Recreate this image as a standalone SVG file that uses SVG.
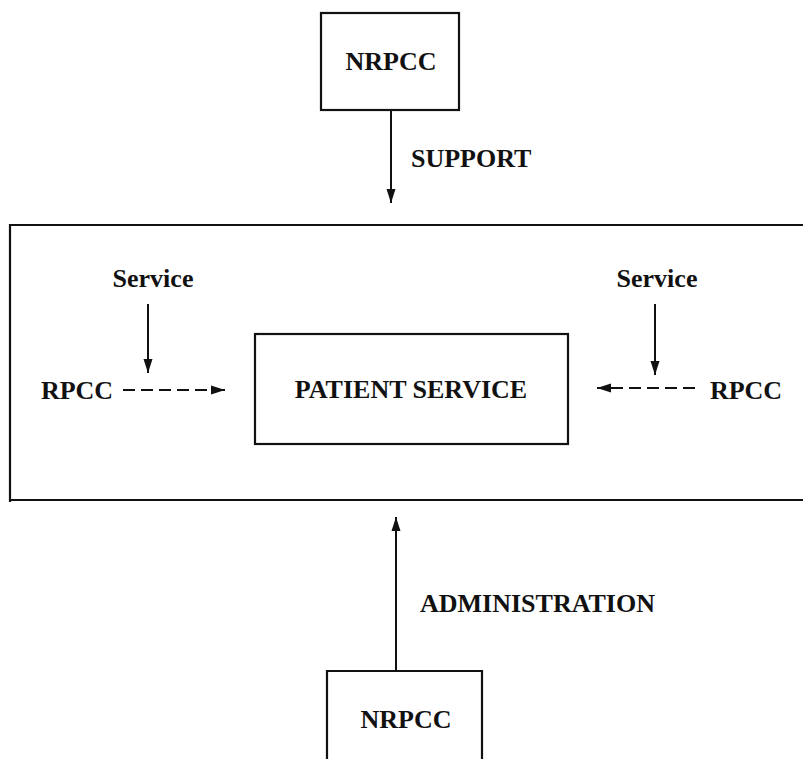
<svg xmlns="http://www.w3.org/2000/svg" width="803" height="759" viewBox="0 0 803 759">
<style>
.box{fill:none;stroke:#111;stroke-width:2.2}
.ln{fill:none;stroke:#111;stroke-width:2}
.dash{stroke-dasharray:12 6}
text{font-family:"Liberation Serif","Times New Roman",serif;font-size:26px;font-weight:bold;fill:#111}
.m{text-anchor:middle}
</style>
<defs>
<marker id="ah" markerUnits="userSpaceOnUse" markerWidth="16" markerHeight="12" refX="14" refY="5" orient="auto">
<path d="M0,0.5 L14,5 L0,9.5 Z" fill="#111"/>
</marker>
</defs>
<rect width="803" height="759" fill="#fff"/>
<g id="nrpcc-top">
<rect class="box" x="321" y="13" width="138" height="97"/>
<text class="m" x="391" y="70">NRPCC</text>
</g>
<g id="outer">
<path class="box" d="M810,225 H10 V502 M10,500 H810"/>
</g>
<g id="patient-service">
<rect class="box" x="255" y="334" width="313" height="110"/>
<text class="m" x="411" y="398">PATIENT SERVICE</text>
</g>
<g id="service-left"><text class="m" x="153" y="287">Service</text></g>
<g id="rpcc-left"><text class="m" x="77" y="399">RPCC</text></g>
<g id="service-right"><text class="m" x="657" y="287">Service</text></g>
<g id="rpcc-right"><text class="m" x="746" y="399">RPCC</text></g>
<g id="nrpcc-bottom">
<path class="box" d="M327,770 V671 H482 V770"/>
<text class="m" x="406" y="728">NRPCC</text>
</g>
<g id="connectors">
<line class="ln" x1="391" y1="110" x2="391" y2="203" marker-end="url(#ah)"/>
<text x="411" y="167">SUPPORT</text>
<line class="ln" x1="148" y1="304" x2="148" y2="373" marker-end="url(#ah)"/>
<line class="ln" x1="655" y1="304" x2="655" y2="375" marker-end="url(#ah)"/>
<line class="ln dash" x1="123" y1="390" x2="225" y2="390" marker-end="url(#ah)"/>
<line class="ln dash" x1="695" y1="388" x2="597" y2="388" marker-end="url(#ah)"/>
<line class="ln" x1="396" y1="671" x2="396" y2="517" marker-end="url(#ah)"/>
<text x="420" y="612">ADMINISTRATION</text>
</g>
</svg>
